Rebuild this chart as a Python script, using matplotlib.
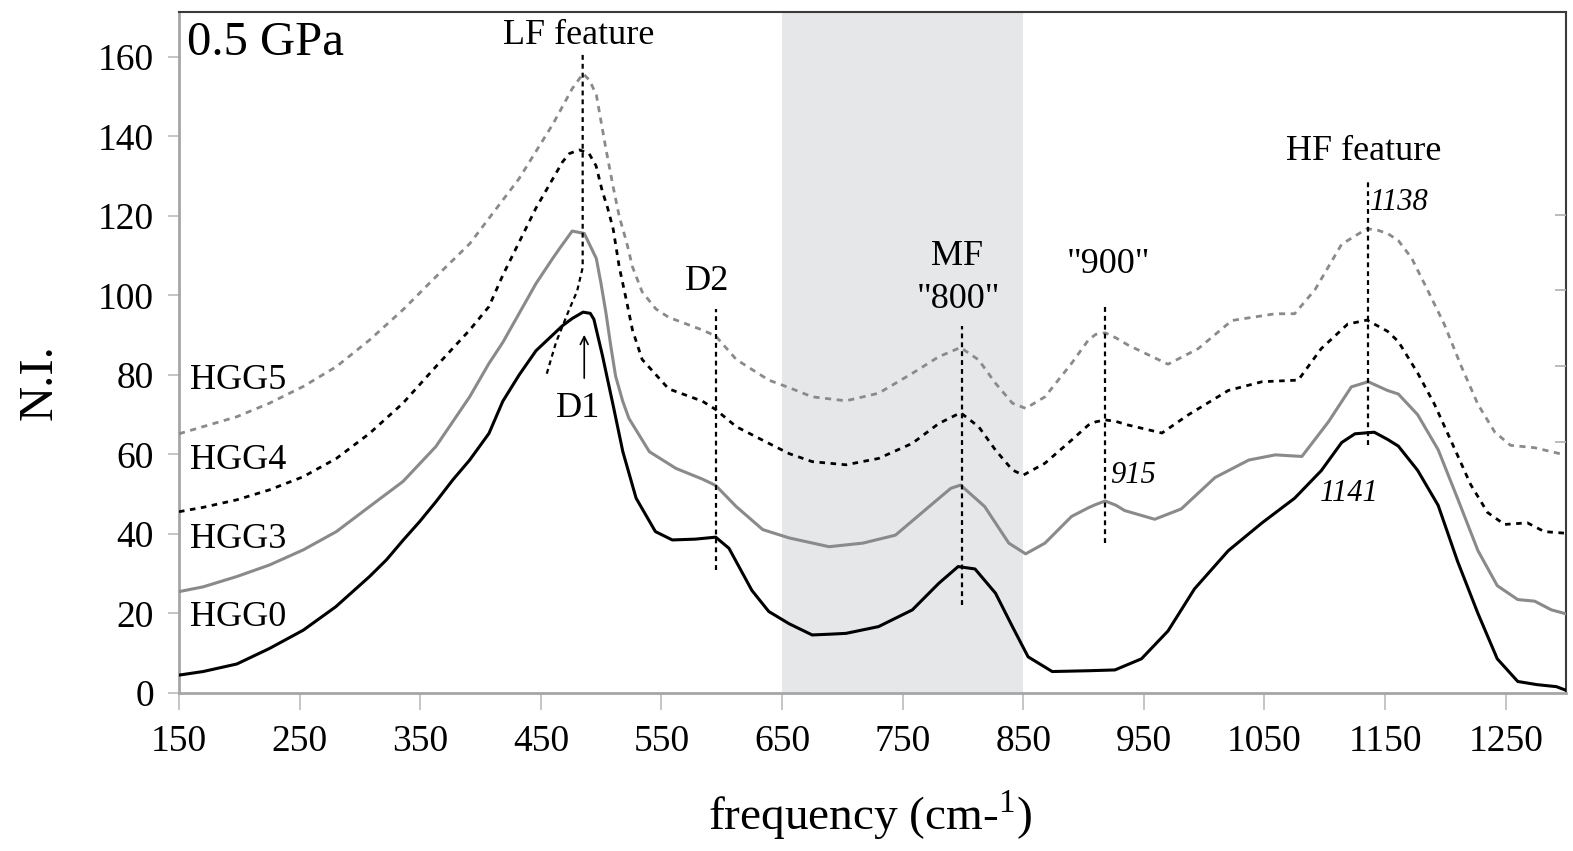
import matplotlib
matplotlib.use("Agg")
import matplotlib.pyplot as plt
import numpy as np

plt.rcParams["font.family"] = ["Liberation Serif", "DejaVu Serif"]
plt.rcParams["mathtext.fontset"] = "custom"
plt.rcParams["mathtext.rm"] = "Liberation Serif"

# --- data (frequency in cm-1, normalised intensity) ---
hgg0_x = [150, 170, 198, 225, 253, 280, 308, 322, 336, 349.5, 363, 377, 391, 407, 418.5, 432,
          446, 468, 476, 485, 491, 494, 501, 510, 518, 529, 545, 559, 578, 595, 606, 625,
          639, 656, 675, 690, 703, 730, 758, 780, 796, 810, 827, 841, 854, 874, 904, 926,
          948, 970, 992, 1020, 1048, 1075, 1097, 1114, 1125, 1141, 1152, 1161, 1177, 1194,
          1210, 1227, 1243, 1260, 1276, 1292, 1299]
hgg0_y = [4.5, 5.4, 7.3, 11.2, 15.8, 21.7, 29.3, 33.5, 38.5, 43.1, 48.1, 53.6, 58.6, 65.3,
          73.4, 80.0, 86.1, 92.4, 94.2, 95.8, 95.5, 94.0, 85.0, 72.3, 60.7, 49.0, 40.6,
          38.5, 38.7, 39.2, 36.4, 25.8, 20.5, 17.4, 14.6, 14.8, 15.0, 16.7, 20.9, 27.6,
          31.8, 31.2, 25.1, 16.7, 9.1, 5.4, 5.6, 5.8, 8.6, 15.6, 26.2, 35.8, 42.8, 49.0,
          55.9, 63.0, 65.2, 65.6, 63.8, 62.1, 56.0, 47.2, 33.2, 20.0, 8.6, 2.9, 2.1, 1.6,
          0.8]

hgg3_x = [150, 170, 198, 225, 253, 280.5, 308, 335.7, 363, 391, 407, 418.5, 446, 459.8, 466,
          476, 486, 496, 499.9, 504, 508.1, 512, 517.9, 523, 540, 562, 584, 595, 612, 634,
          656, 689, 717, 744, 772, 790, 798, 818, 838, 852, 868, 890, 904, 910, 918, 927,
          934, 959, 981, 1009, 1037, 1059, 1081, 1103, 1122, 1136, 1152, 1161, 1177, 1194,
          1210, 1227, 1243, 1260, 1274, 1288, 1299]
hgg3_y = [25.5, 26.7, 29.3, 32.2, 36.0, 40.6, 46.9, 53.2, 62.0, 74.5, 82.9, 88.2, 103.0,
          109.3, 112.0, 116.2, 115.6, 109.3, 103.0, 95.6, 87.1, 79.7, 73.4, 69.1, 60.7, 56.5,
          53.8, 52.2, 46.9, 41.1, 39.0, 36.8, 37.7, 39.7, 46.9, 51.5, 52.3, 46.9, 37.7,
          35.0, 37.7, 44.4, 46.6, 47.4, 48.3, 47.2, 45.9, 43.7, 46.3, 54.2, 58.6, 59.9,
          59.5, 68.2, 77.0, 78.3, 76.1, 75.2, 70.0, 61.2, 49.0, 35.8, 27.0, 23.5, 23.1,
          20.9, 20.0]

hgg4_x = [150, 170, 198, 225, 253, 280.5, 308, 335.7, 363, 391, 407, 418.5, 446, 468, 473.7,
          482, 490, 495.8, 501, 505.4, 510, 515, 521, 526, 534, 556, 584, 595, 612, 639,
          656, 675, 703, 730, 758, 780, 798, 813, 827, 841, 850, 868, 890, 904, 910, 918,
          927, 937, 965, 987, 1020, 1048, 1078, 1097, 1119, 1135, 1152, 1161, 1177, 1191,
          1208, 1221, 1235, 1249, 1268, 1282, 1299]
hgg4_y = [45.6, 46.7, 48.6, 51.1, 54.4, 59.0, 65.3, 72.9, 82.1, 91.3, 97.2, 105.1, 122.0,
          133.6, 135.7, 136.6, 135.7, 132.6, 126.2, 122.0, 116.7, 107.2, 98.7, 91.3, 83.9,
          76.5, 73.4, 71.3, 67.0, 62.8, 60.2, 58.2, 57.4, 59.0, 62.8, 67.8, 70.5, 67.0,
          61.1, 56.1, 54.8, 57.8, 63.6, 67.4, 68.2, 68.7, 68.3, 67.4, 65.4, 70.0, 76.1,
          78.3, 78.7, 86.6, 92.8, 93.8, 91.0, 88.4, 80.5, 72.6, 61.2, 52.4, 45.4, 42.4,
          42.8, 40.6, 40.2]

hgg5_x = [150, 170, 198, 225, 253, 280.5, 308, 335.7, 363, 391, 407, 432, 460, 476, 485, 490.2,
          496, 504, 510, 515, 521, 526, 534, 545.4, 556, 584, 595, 612, 639, 656, 675, 703,
          730, 758, 780, 798, 813, 827, 841, 852, 868, 890, 904, 910, 918, 927, 937, 970,
          995, 1023, 1059, 1075, 1092, 1114, 1135, 1144, 1152, 1161, 1172, 1185, 1199, 1213,
          1227, 1241, 1254, 1274, 1299]
hgg5_y = [65.2, 67.0, 69.5, 72.9, 77.1, 82.1, 88.8, 96.4, 104.7, 113.0, 119.4, 129.4, 143.1,
          152.0, 155.8, 154.2, 150.5, 136.8, 127.3, 119.9, 113.5, 107.2, 100.9, 96.6, 94.5,
          91.3, 89.8, 83.9, 78.7, 76.8, 74.5, 73.5, 75.4, 80.4, 84.6, 86.9, 83.8, 77.9,
          72.9, 71.6, 74.5, 82.9, 88.8, 90.2, 90.6, 89.3, 87.5, 82.7, 86.6, 93.7, 95.4,
          95.4, 101.5, 112.9, 116.8, 116.4, 115.6, 113.8, 109.4, 101.5, 92.8, 82.3, 72.6,
          65.6, 62.3, 61.7, 59.9]

# feature marker lines
lf_x = [484.7, 484.7, 484.7, 480, 473.7, 462.6, 454.3]
lf_y = [160.5, 120, 107, 101, 96.6, 88.2, 79.7]
markers = {"D2": (595, 31, 96.6), "MF": (799, 22.1, 92.2),
           "900": (918, 37.7, 97.6), "HF": (1136, 62.4, 128.6)}

xticks = list(range(150, 1251, 100))
yticks = list(range(0, 161, 20))
shade = (650, 850)

grey = "#8a8a8a"
axis_grey = "#a6a6a6"

fig = plt.figure(figsize=(15.73, 8.51), dpi=100)
ax = fig.add_axes([179 / 1573, 1 - 693 / 851, (1566 - 179) / 1573, (693 - 12) / 851])

ax.axvspan(*shade, color="#e6e7e8", zorder=0, lw=0)

ax.plot(hgg5_x, hgg5_y, color=grey, lw=2.0, dashes=(2.2, 2.0), zorder=3)
ax.plot(hgg4_x, hgg4_y, color="black", lw=2.0, dashes=(2.0, 2.0), zorder=3)
ax.plot(hgg3_x, hgg3_y, color=grey, lw=2.2, zorder=3)
ax.plot(hgg0_x, hgg0_y, color="black", lw=2.2, zorder=3)

dot = dict(color="black", lw=1.6, dashes=(2.2, 1.8), zorder=4)
ax.plot(lf_x, lf_y, **dot)
for name, (mx, y0, y1) in markers.items():
    ax.plot([mx, mx], [y0, y1], **dot)

ax.annotate("", xy=(486, 90.8), xytext=(486, 78.5),
            arrowprops=dict(arrowstyle="->", lw=1.2, color="black", mutation_scale=14))

ax.set_xlim(150, 1300)
ax.set_ylim(0, 171.3)
ax.set_xticks(xticks)
ax.set_yticks(yticks)
ax.tick_params(axis="x", direction="out", length=12, width=1.3, color="#c0c0c0",
               labelsize=27, pad=11)
ax.tick_params(axis="y", direction="out", length=8, width=1.3, color="#c0c0c0",
               labelsize=27, pad=10)
for side in ["left", "bottom"]:
    ax.spines[side].set_color(axis_grey)
    ax.spines[side].set_linewidth(2)
for side in ["top", "right"]:
    ax.spines[side].set_color("#3a3a3a")
    ax.spines[side].set_linewidth(1.5)

# small inward ticks on the right edge
ax2 = ax.twinx()
ax2.set_ylim(ax.get_ylim())
ax2.set_yticks([120.3, 101.4, 82.3, 63.1])
ax2.tick_params(axis="y", direction="in", length=8, width=1.2, color="#b0b0b0",
                labelright=False)
for s in ax2.spines.values():
    s.set_visible(False)

txt = dict(fontsize=26, ha="center", va="center", zorder=5)
ax.text(157, 163.5, "0.5 GPa", fontsize=35, ha="left", va="center")
ax.text(481, 165.5, "LF feature", **txt)
ax.text(588, 103.4, "D2", **txt)
ax.text(795, 109.7, "MF", **txt)
ax.text(796, 98.9, '"800"', **txt)
ax.text(921, 107.7, '"900"', **txt)
ax.text(1132, 136.1, "HF feature", **txt)
ax.text(481, 71.5, "D1", **txt)
ital = dict(fontsize=22, style="italic", ha="center", va="center")
ax.text(1162, 123.3, "1138", **ital)
ax.text(1120, 50.3, "1141", **ital)
ax.text(941, 54.6, "915", **ital)
for lab, yy in [("HGG5", 78.7), ("HGG4", 58.6), ("HGG3", 38.5), ("HGG0", 18.9)]:
    ax.text(159, yy, lab, fontsize=26, ha="left", va="center")

fig.text(40 / 1573, 1 - 382 / 851, "N.I.", fontsize=35, rotation=90,
         ha="center", va="center")
fig.text(870 / 1573, 1 - 815 / 851, r"frequency (cm-$^{\mathregular{1}}$)", fontsize=34,
         ha="center", va="center")

fig.savefig("out.png", dpi=100)
